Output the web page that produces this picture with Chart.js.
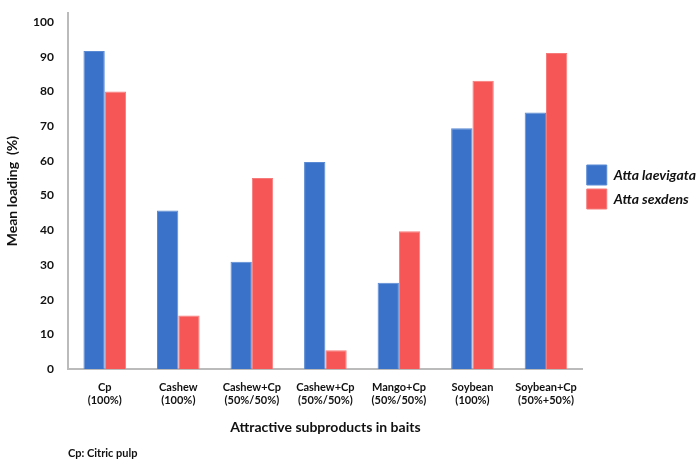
<!DOCTYPE html>
<html>
<head>
<meta charset="utf-8">
<script src="https://cdn.jsdelivr.net/npm/chart.js@4"></script>
<style>
  body { margin: 0; background: #fff; }
  #wrap { position: relative; width: 700px; height: 468px; }
  #nota { position: absolute; left: 68px; top: 446px; font: bold 11px Lato, sans-serif; color: #111; }
</style>
</head>
<body>
<div id="wrap">
  <canvas id="grafico" width="700" height="468"></canvas>
  <div id="nota">Cp: Citric pulp</div>
</div>
<script>
// categorias (cada uma em duas linhas)
const categorias = [
  ['Cp', '(100%)'],
  ['Cashew', '(100%)'],
  ['Cashew+Cp', '(50%/50%)'],
  ['Cashew+Cp', '(50%/50%)'],
  ['Mango+Cp', '(50%/50%)'],
  ['Soybean', '(100%)'],
  ['Soybean+Cp', '(50%+50%)']
];
const attaLaevigata = [91.7, 45.7, 30.9, 59.7, 24.9, 69.4, 74];
const attaSexdens = [80, 15.4, 55.1, 5.4, 39.7, 83.1, 91.1];
const ticksY = [0, 10, 20, 30, 40, 50, 60, 70, 80, 90, 100];

const fonte = 'Lato, sans-serif';

// sobe a legenda pra ficar no meio da area do grafico
const ajusteLegenda = {
  id: 'ajusteLegenda',
  afterLayout(chart) { chart.legend.bottom -= 76; }
};

const ctx = document.getElementById('grafico').getContext('2d');
new Chart(ctx, {
  type: 'bar',
  data: {
    labels: categorias,
    datasets: [
      { label: 'Atta laevigata', data: attaLaevigata, backgroundColor: '#3b72c9', borderColor: '#5a8ad4', borderWidth: 1 },
      { label: 'Atta sexdens', data: attaSexdens, backgroundColor: '#f65656', borderColor: '#f77a7a', borderWidth: 1 }
    ]
  },
  plugins: [ajusteLegenda],
  options: {
    responsive: false,
    animation: false,
    categoryPercentage: 0.58,
    barPercentage: 1,
    layout: { padding: { top: 10, bottom: 28, left: 0, right: -6 } },
    plugins: {
      legend: {
        position: 'right',
        labels: {
          boxWidth: 20, boxHeight: 20, padding: 4, color: '#111',
          font: { family: fonte, size: 14, style: 'italic', weight: 'bold' }
        }
      },
      tooltip: { enabled: false }
    },
    scales: {
      x: {
        grid: { display: false },
        border: { color: '#bbb', width: 2 },
        afterFit: (eixo) => { eixo.height = 71; },
        ticks: { color: '#111', font: { family: fonte, size: 11, weight: 'bold' }, maxRotation: 0, autoSkip: false, padding: 4 },
        title: { display: true, text: 'Attractive subproducts in baits', color: '#111', font: { family: fonte, size: 14, weight: 'bold' }, padding: { top: 14 } }
      },
      y: {
        min: 0, max: 102.6,
        grid: { display: false },
        border: { color: '#bbb', width: 2 },
        afterFit: (eixo) => { eixo.width = 68; },
        afterBuildTicks: (eixo) => { eixo.ticks = ticksY.map(v => ({ value: v })); },
        ticks: { color: '#111', font: { family: fonte, size: 12, weight: 'bold' }, padding: 6 },
        title: { display: true, text: 'Mean loading  (%)', color: '#111', font: { family: fonte, size: 14, weight: 'bold' }, padding: { bottom: 14 } }
      }
    }
  }
});
</script>
</body>
</html>
